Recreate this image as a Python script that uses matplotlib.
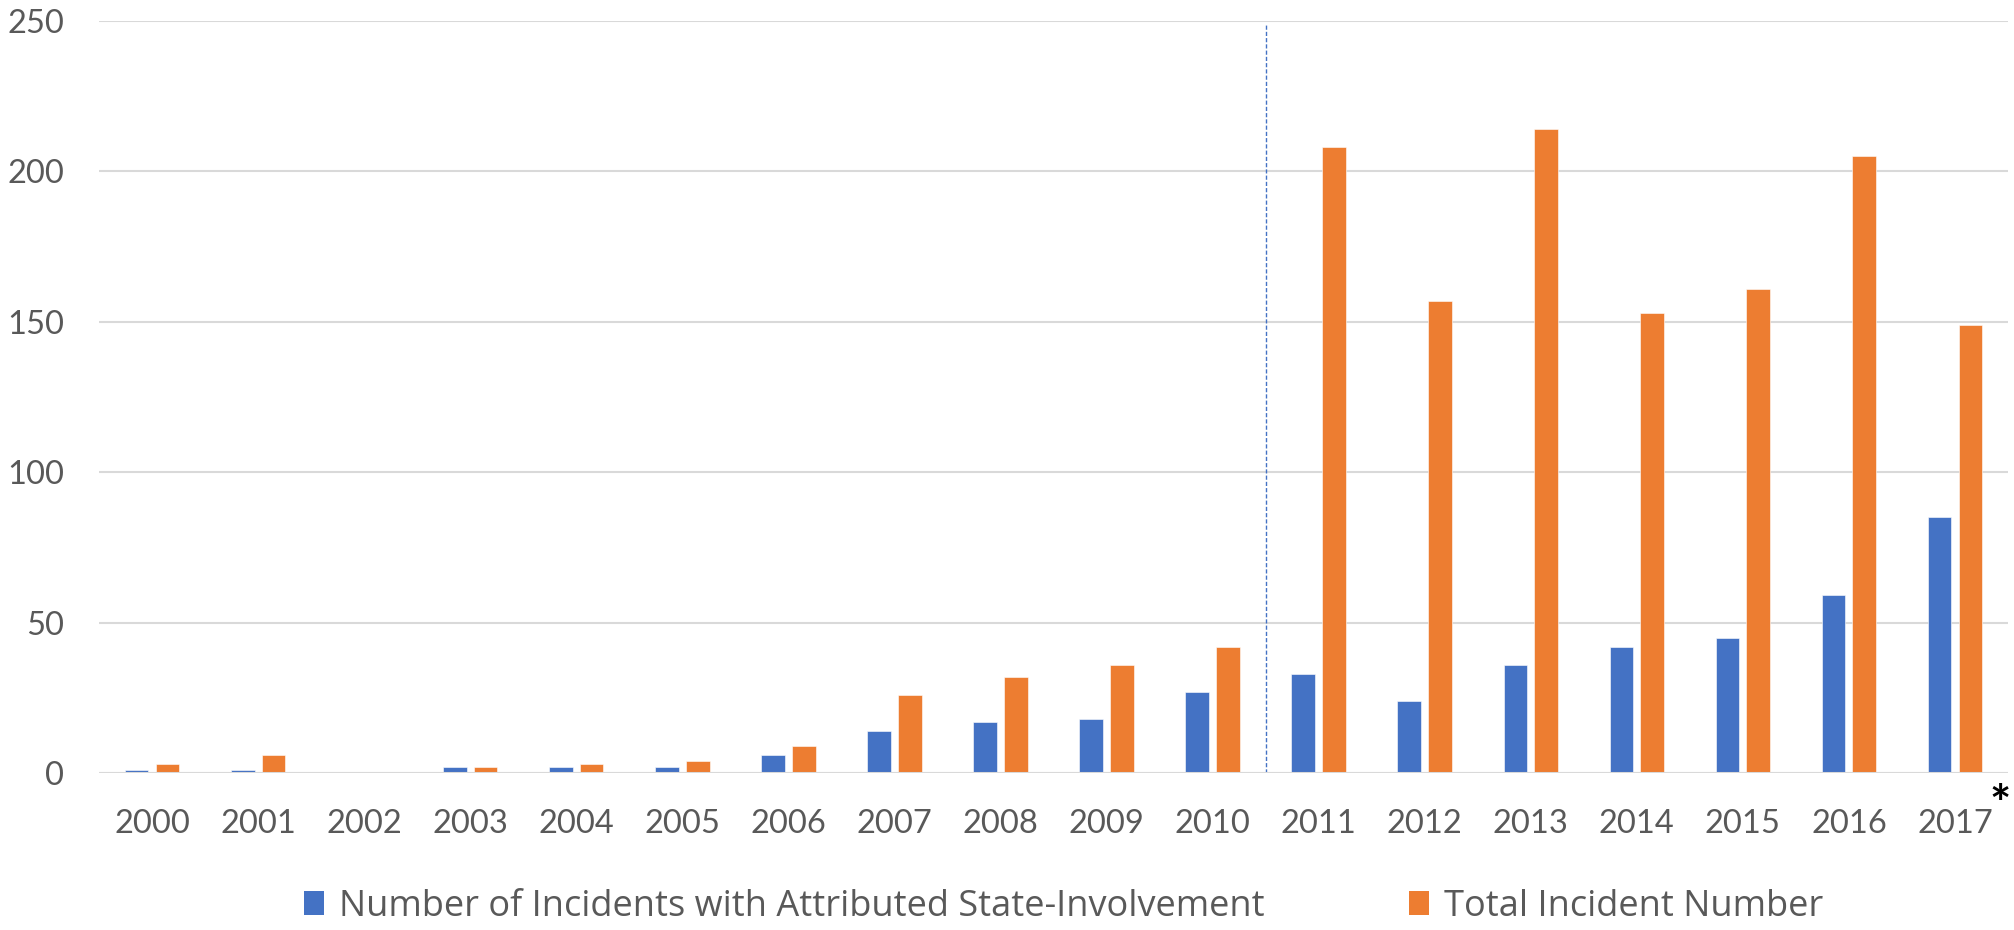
import numpy as np
import matplotlib.pyplot as plt
from matplotlib.patches import Patch

years = [str(y) for y in range(2000, 2018)]
state_involved = [1, 1, 0, 2, 2, 2, 6, 14, 17, 18, 27, 33, 24, 36, 42, 45, 59, 85]
total_incidents = [3, 6, 0, 2, 3, 4, 9, 26, 32, 36, 42, 208, 157, 214, 153, 161, 205, 149]
y_ticks = [0, 50, 100, 150, 200, 250]

blue = "#4472C4"
orange = "#ED7D31"
text_grey = "#595959"

plt.rcParams["font.family"] = ["Lato", "DejaVu Sans"]

fig = plt.figure(figsize=(20.15, 9.3), dpi=100)
ax = fig.add_axes([99 / 2015, 1 - 773 / 930, 1909 / 2015, (773 - 20.7) / 930])

x = np.arange(len(years))
w = 0.223
off = 0.145
ax.bar(x - off, state_involved, w, color=blue, edgecolor="white", linewidth=0.4, zorder=3)
ax.bar(x + off, total_incidents, w, color=orange, edgecolor="white", linewidth=0.4, zorder=3)

# dashed divider between 2010 and 2011
ax.plot([10.5, 10.5], [0, 248.5], color=blue, linestyle=(0, (3, 1.5)), linewidth=1.0, zorder=2)

ax.set_xlim(-0.5, len(years) - 0.5)
ax.set_ylim(0, 250)
ax.set_yticks(y_ticks)
ax.set_xticks(x)
ax.set_xticklabels(years)
ax.grid(axis="y", color="#D9D9D9", linewidth=1.5, zorder=0)
ax.set_axisbelow(True)
for s in ax.spines.values():
    s.set_visible(False)
ax.axhline(0, color="#D9D9D9", linewidth=2.2, zorder=4)
ax.tick_params(axis="both", length=0, labelsize=23.5, labelcolor=text_grey)
ax.tick_params(axis="y", pad=25)
ax.tick_params(axis="x", pad=26)

# asterisk next to 2017 (pixel coords from bottom-left)
ax.text(2000, 930 - 806, "*", transform=None, fontsize=36, fontweight="bold",
        color="black", ha="center", va="center")

handles = [Patch(facecolor=blue), Patch(facecolor=orange)]
labels = ["Number of Incidents with Attributed State-Involvement", "Total Incident Number"]
fig.legend(handles, labels, loc="center", bbox_to_anchor=(0.528, 0.025), ncol=2,
           frameon=False, prop={"family": ["Open Sans", "DejaVu Sans"], "size": 26},
           labelcolor=text_grey, handlelength=0.55,
           handleheight=0.65, handletextpad=0.42, columnspacing=4.0)

fig.savefig("out.png", dpi=100)
